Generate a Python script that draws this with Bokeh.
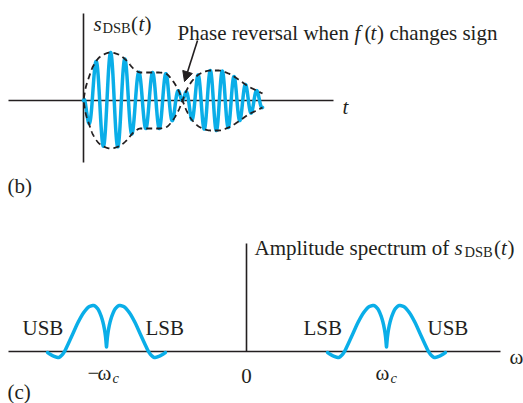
import numpy as np
from bokeh.plotting import figure
from bokeh.models import Range1d, Label, Arrow, NormalHead
from bokeh.layouts import column
from bokeh.embed import file_html
from bokeh.resources import INLINE

# ---------------- data ----------------
# (b) message envelope f(t): knots (time, value); sign change = phase reversal
env_t = [0, 2, 5, 10, 17, 27, 35, 43, 50, 57, 67, 75, 82, 89, 95, 99,
         103, 109, 117, 127, 135, 145, 155, 165, 173, 179]
env_f = [0, 12, 22, 35, 44, 48, 46, 40, 32, 28, 28, 28, 27, 20, 10, 0,
         -10, -20, -27, -30, -30, -27, -21, -14, -10, -7]
carrier_period = [15.0, 11.0]      # carrier period at start / end of burst
carrier_span = [5.0, 177.0]        # where those periods are read

# (c) amplitude spectrum: one band profile (offset from carrier, magnitude)
spec_u = [0, 1, 3, 6, 9, 13, 17, 22, 28, 34, 40, 42, 45, 48, 52, 56, 59]
spec_h = [4, 15, 27, 37, 43, 46, 45, 40, 30, 17, 4, 0, -4, -6, -5, -3, -1]
omega_c = 140.0
band_labels = ["USB", "LSB", "LSB", "USB"]

INK = "#231f20"
BLUE = "#0aaee8"
FONT = "Liberation Serif"
FS = "21px"
FS_SUB = "14.5px"


def pchip(xk, yk, x):
    xk = np.asarray(xk, float)
    yk = np.asarray(yk, float)
    h = np.diff(xk)
    d = np.diff(yk) / h
    n = len(xk)
    m = np.zeros(n)
    for k in range(1, n - 1):
        if d[k - 1] * d[k] > 0:
            w1 = 2 * h[k] + h[k - 1]
            w2 = h[k] + 2 * h[k - 1]
            m[k] = (w1 + w2) / (w1 / d[k - 1] + w2 / d[k])
    m[0] = d[0]
    m[-1] = d[-1]
    idx = np.clip(np.searchsorted(xk, x) - 1, 0, n - 2)
    t = (x - xk[idx]) / h[idx]
    h00 = 2 * t**3 - 3 * t**2 + 1
    h10 = t**3 - 2 * t**2 + t
    h01 = -2 * t**3 + 3 * t**2
    h11 = t**3 - t**2
    return (h00 * yk[idx] + h10 * h[idx] * m[idx]
            + h01 * yk[idx + 1] + h11 * h[idx] * m[idx + 1])


def make_fig(h, xr, yr):
    p = figure(width=523, height=h, x_range=Range1d(*xr), y_range=Range1d(*yr),
               output_backend="svg", toolbar_location=None, min_border=0,
               x_axis_location=None, y_axis_location=None)
    p.grid.visible = False
    p.outline_line_color = None
    p.background_fill_color = "white"
    p.border_fill_color = "white"
    return p


def lab(p, x, y, text, size=FS, italic=False, align="left"):
    p.add_layout(Label(x=x, y=y, text=text, text_font=FONT, text_font_size=size,
                       text_font_style="italic" if italic else "normal",
                       text_color=INK, text_baseline="alphabetic", text_align=align))


# ---------------- (b) time-domain DSB signal ----------------
top = make_fig(215, (-83, 440), (-115, 100))

top.line([-75, 250], [0, 0], line_color=INK, line_width=1.6)
top.line([0, 0], [-62, 87], line_color=INK, line_width=1.6)

tt = np.linspace(0, env_t[-1], 3000)
f = pchip(env_t, env_f, tt)
period = np.interp(tt, carrier_span, carrier_period)
freq = 1.0 / period
cum = np.concatenate([[0], np.cumsum(0.5 * (freq[1:] + freq[:-1]) * np.diff(tt))])
cum -= np.interp(carrier_span[0], tt, cum)
s = f * np.cos(np.pi + 2 * np.pi * cum)
top.line(tt, s, line_color=BLUE, line_width=3.5, line_join="round", line_cap="round")

te = np.linspace(0.3, env_t[-1], 800)
fe = pchip(env_t, env_f, te)
top.line(te, fe, line_color=INK, line_width=1.8, line_dash="6 4")
top.line(te, -fe, line_color=INK, line_width=1.8, line_dash="6 4")

top.add_layout(Arrow(end=NormalHead(size=10, fill_color=INK, line_color=INK),
                     x_start=114, y_start=60, x_end=101, y_end=19,
                     line_color=INK, line_width=1.6))

lab(top, 10, 77, "s", italic=True)
lab(top, 19, 73, "DSB", size=FS_SUB)
lab(top, 47.5, 77, "(")
lab(top, 55, 77, "t", italic=True)
lab(top, 61, 77, ")")

lab(top, 94, 68, "Phase reversal when")
lab(top, 271, 68, "f", italic=True)
lab(top, 281, 68, "(")
lab(top, 287, 68, "t", italic=True)
lab(top, 293.5, 68, ")")
lab(top, 306, 68, "changes sign")

lab(top, 259, -6, "t", italic=True)
lab(top, -76, -85, "(b)")

# ---------------- (c) amplitude spectrum ----------------
bot = make_fig(188, (-246, 277), (-52, 136))

bot.line([-238, 254], [0, 0], line_color=INK, line_width=1.6)
bot.line([0, 0], [0, 108], line_color=INK, line_width=1.6)

uu = np.linspace(-spec_u[-1], spec_u[-1], 1200)
hh = pchip(spec_u, spec_h, np.abs(uu))
for c in (-omega_c, omega_c):
    bot.line(uu + c, hh, line_color=BLUE, line_width=3.5, line_join="round", line_cap="round")

for x, t in zip([-224, -101, 57, 181], band_labels):
    lab(bot, x, 24, t)

lab(bot, -159, -21, "\u2212")
lab(bot, -149, -21, "\u03c9")
lab(bot, -134, -26, "c", size=FS_SUB, italic=True)
lab(bot, 0, -24, "0", align="center")
lab(bot, 129, -21, "\u03c9")
lab(bot, 144, -26, "c", size=FS_SUB, italic=True)
lab(bot, 263, -5, "\u03c9")

lab(bot, 8, 104, "Amplitude spectrum of")
lab(bot, 208, 104, "s", italic=True)
lab(bot, 218, 100, "DSB", size=FS_SUB)
lab(bot, 247.5, 104, "(")
lab(bot, 254.5, 104, "t", italic=True)
lab(bot, 261, 104, ")")

lab(bot, -239, -40, "(c)")

layout = column(top, bot, spacing=0)
open("out.html", "w").write(file_html(layout, INLINE))
